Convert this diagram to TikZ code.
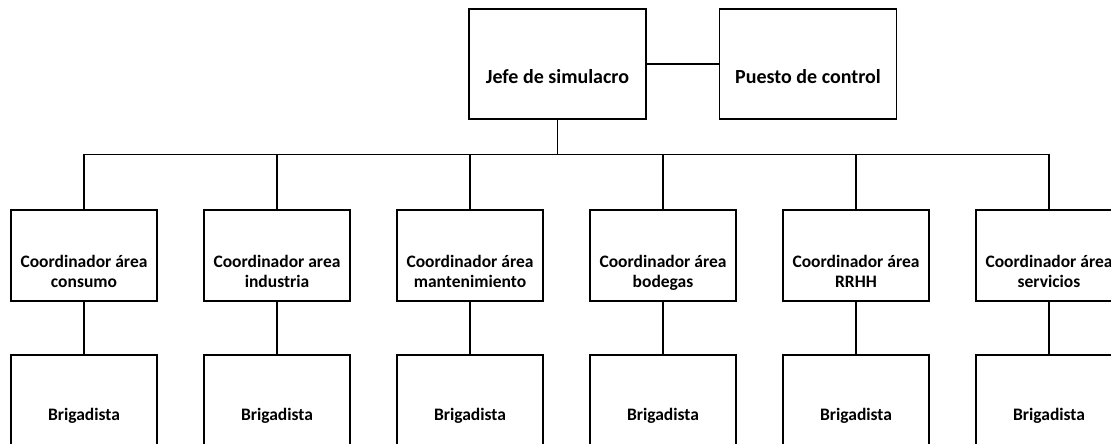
\documentclass[tikz,border=0pt]{standalone}
\usepackage{fontspec}
\setmainfont{Carlito}
\usetikzlibrary{positioning}

\begin{document}
\begin{tikzpicture}[
  every node/.style={font=\fontsize{17.5}{20}\selectfont\bfseries},
  jefebox/.style={rectangle,draw,line width=1.5pt,minimum width=177pt,minimum height=110pt,text height=40pt,text depth=0pt,font=\fontsize{20}{20}\selectfont\bfseries},
  areabox/.style={rectangle,draw,line width=1.5pt,minimum width=146pt,minimum height=91pt,align=center,text height=64pt,text depth=0pt},
  brigbox/.style={rectangle,draw,line width=1.5pt,minimum width=146pt,minimum height=91pt,text height=40pt,text depth=0pt},
  edge from parent/.style={draw,line width=1.5pt},
  edge from parent path={(\tikzparentnode.south) -- ++(0,-35pt) -| (\tikzchildnode.north)},
  level 1/.style={level distance=191.5pt,sibling distance=193pt,nodes={xshift=9pt}},
  level 2/.style={level distance=145pt,nodes={xshift=-9pt}}]
\useasboundingbox (0,0) rectangle (1111pt,444pt);
\node[jefebox](jefe) at (557.5pt,380pt){Jefe de simulacro}
  child{
  node[areabox](consumo){Coordinador área\\consumo}
  child{
   node[brigbox](brig1){Brigadista}
  }
  }
  child{
  node[areabox](industria){Coordinador area\\industria}
  child{
   node[brigbox](brig2){Brigadista}
  }
  }
  child{
  node[areabox](manten){Coordinador área\\mantenimiento}
  child{
   node[brigbox](brig3){Brigadista}
  }
  }
  child{
  node[areabox](bodegas){Coordinador área\\bodegas}
  child{
   node[brigbox](brig4){Brigadista}
  }
  }
  child{
  node[areabox](rrhh){Coordinador área\\RRHH}
  child{
   node[brigbox](brig5){Brigadista}
  }
  }
  child{
  node[areabox](servicios){Coordinador área\\servicios}
  child{
   node[brigbox](brig6){Brigadista}
  }
  };
\node[jefebox,right=72pt of jefe](puesto){Puesto de control};
\draw[line width=1.5pt] (jefe) -- (puesto);
\end{tikzpicture}
\end{document}
